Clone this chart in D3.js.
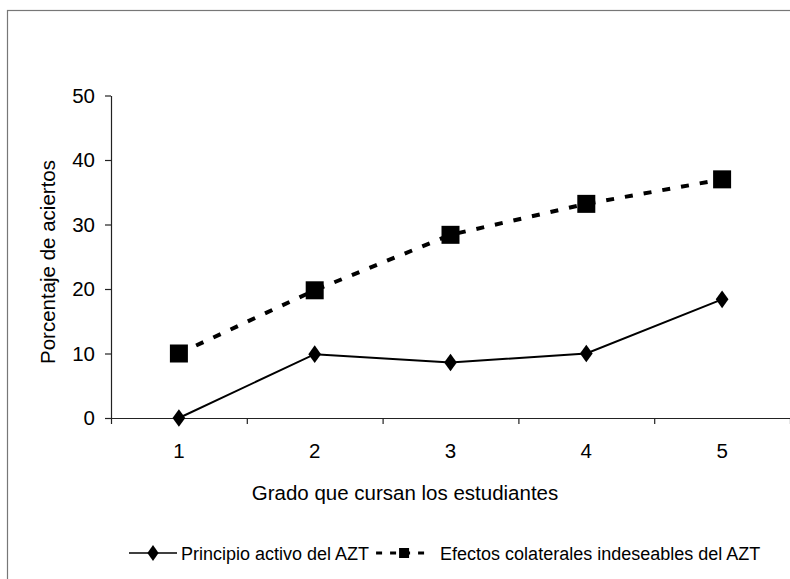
<!DOCTYPE html>
<html>
<head>
<meta charset="utf-8">
<script src="https://cdn.jsdelivr.net/npm/d3@7/dist/d3.min.js"></script>
<style>
  body { margin: 0; background: #fff; }
  text { font-family: "Liberation Sans", Arial, sans-serif; fill: #000; }
</style>
</head>
<body>
<div id="chart"></div>
<script>
var grados = ["1", "2", "3", "4", "5"];
var principio = [0, 9.9, 8.6, 10, 18.4];
var efectos = [10, 19.8, 28.4, 33.2, 37];
var yTicks = [0, 10, 20, 30, 40, 50];
var names = ["Principio activo del AZT", "Efectos colaterales indeseables del AZT"];

var width = 790, height = 579;

var svg = d3.select("#chart").append("svg")
    .attr("width", width)
    .attr("height", height);

// outer frame, cut off on the right and bottom like the scan
svg.append("rect")
    .attr("x", 7.5).attr("y", 10.5)
    .attr("width", 800).attr("height", 600)
    .attr("fill", "none")
    .attr("stroke", "#777")
    .attr("stroke-width", 1.2);

var x = d3.scaleBand().domain(grados).range([111, 790]);
var xEdge = d3.scaleLinear().domain([0, grados.length]).range([111, 790]);
var y = d3.scaleLinear().domain([0, 50]).range([418, 95.5]);

function cx(i) { return x(grados[i]) + x.bandwidth() / 2; }

// y axis
var gy = svg.append("g")
    .attr("transform", "translate(111,0)")
    .call(d3.axisLeft(y).tickValues(yTicks).tickSize(6).tickSizeOuter(0).tickPadding(10));
gy.selectAll("text").style("font-size", "20.5px");

// x axis: labels centred in bands, ticks between categories
var gx = svg.append("g")
    .attr("transform", "translate(0,418)")
    .call(d3.axisBottom(x).tickSize(0).tickPadding(25));
gx.select(".domain").remove();
gx.selectAll("text").style("font-size", "20.5px");

svg.append("g")
    .attr("transform", "translate(0,418)")
    .call(d3.axisBottom(xEdge).ticks(grados.length).tickSize(6).tickSizeOuter(0).tickFormat(""));

svg.selectAll(".domain, .tick line").attr("stroke", "#222").attr("stroke-width", 1.2);

// axis titles
svg.append("text")
    .attr("transform", "translate(55,262) rotate(-90)")
    .attr("text-anchor", "middle")
    .style("font-size", "20.5px")
    .text("Porcentaje de aciertos");

svg.append("text")
    .attr("x", 405).attr("y", 500)
    .attr("text-anchor", "middle")
    .style("font-size", "20.5px")
    .text("Grado que cursan los estudiantes");

var line = d3.line()
    .x(function(d, i) { return cx(i); })
    .y(function(d) { return y(d); });

// dashed series
svg.append("path")
    .datum(efectos)
    .attr("d", line)
    .attr("fill", "none")
    .attr("stroke", "#000")
    .attr("stroke-width", 4)
    .attr("stroke-dasharray", "8,11");

svg.selectAll("rect.sq")
    .data(efectos)
    .enter().append("rect")
    .attr("class", "sq")
    .attr("x", function(d, i) { return cx(i) - 9; })
    .attr("y", function(d) { return y(d) - 9; })
    .attr("width", 18).attr("height", 18)
    .attr("fill", "#000");

// solid series
svg.append("path")
    .datum(principio)
    .attr("d", line)
    .attr("fill", "none")
    .attr("stroke", "#000")
    .attr("stroke-width", 2);

var diamond = d3.symbol().type(d3.symbolDiamond).size(90);

svg.selectAll("path.dm")
    .data(principio)
    .enter().append("path")
    .attr("class", "dm")
    .attr("d", diamond)
    .attr("transform", function(d, i) { return "translate(" + cx(i) + "," + y(d) + ") scale(1.25,1)"; })
    .attr("fill", "#000");

// legend
var ly = 553;
var lg = svg.append("g");
var lx = 129;

lg.append("line")
    .attr("x1", lx).attr("x2", lx + 48).attr("y1", ly).attr("y2", ly)
    .attr("stroke", "#000").attr("stroke-width", 1.5);
lg.append("path")
    .attr("d", diamond)
    .attr("transform", "translate(" + (lx + 24) + "," + ly + ") scale(1.1,0.9)");

var t1 = lg.append("text")
    .attr("x", lx + 52).attr("y", ly + 6.5)
    .style("font-size", "18px")
    .text(names[0]);

var lx2 = lx + 52 + t1.node().getComputedTextLength() + 7;

lg.append("line")
    .attr("x1", lx2).attr("x2", lx2 + 56).attr("y1", ly).attr("y2", ly)
    .attr("stroke", "#000").attr("stroke-width", 3)
    .attr("stroke-dasharray", "6,8");
lg.append("rect")
    .attr("x", lx2 + 23).attr("y", ly - 5)
    .attr("width", 10).attr("height", 10);

lg.append("text")
    .attr("x", lx2 + 64).attr("y", ly + 6.5)
    .style("font-size", "18px")
    .text(names[1]);
</script>
</body>
</html>
